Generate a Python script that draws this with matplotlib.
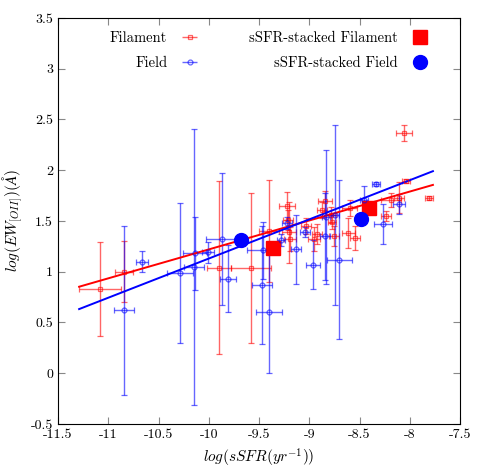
import matplotlib
matplotlib.use("Agg")
import matplotlib.pyplot as plt
import numpy as np

plt.rcParams["font.family"] = "serif"
plt.rcParams["font.serif"] = ["cmr10", "DejaVu Serif"]
plt.rcParams["mathtext.fontset"] = "cm"
plt.rcParams["axes.unicode_minus"] = False

# filament galaxies: x, y, xerr, yerr
fil_x = [-11.08, -10.84, -9.90, -9.58, -9.40, -9.22, -9.20, -9.21, -9.19, -9.03,
         -8.92, -8.95, -8.84, -8.87, -8.78, -8.77, -8.75, -8.61, -8.55, -8.60,
         -8.19, -8.11, -8.24, -8.04, -8.06, -7.81]
fil_y = [0.83, 1.00, 1.04, 1.04, 1.40, 1.65, 1.39, 1.51, 1.32, 1.45,
         1.37, 1.32, 1.70, 1.61, 1.56, 1.49, 1.35, 1.38, 1.33, 1.63,
         1.71, 1.73, 1.55, 1.89, 2.37, 1.73]
fil_xerr = [0.21, 0.09, 0.12, 0.20, 0.10, 0.08, 0.07, 0.05, 0.06, 0.05,
            0.05, 0.06, 0.07, 0.05, 0.05, 0.04, 0.05, 0.06, 0.05, 0.07,
            0.10, 0.05, 0.05, 0.04, 0.08, 0.04]
fil_yerr = [0.46, 0.30, 0.85, 0.74, 0.50, 0.14, 0.30, 0.10, 0.12, 0.08,
            0.10, 0.12, 0.10, 0.08, 0.08, 0.07, 0.10, 0.15, 0.12, 0.08,
            0.07, 0.15, 0.05, 0.02, 0.08, 0.02]

# field galaxies
fld_x = [-10.84, -10.66, -10.29, -10.15, -10.14, -10.01, -9.87, -9.81, -9.46, -9.47,
         -9.40, -9.28, -9.13, -9.04, -8.96, -8.84, -8.83, -8.74, -8.70, -8.46,
         -8.34, -8.27, -8.11, -9.22]
fld_y = [0.62, 1.10, 0.99, 1.05, 1.18, 1.19, 1.32, 0.93, 1.21, 0.87,
         0.60, 1.31, 1.22, 1.39, 1.07, 1.35, 1.54, 1.56, 1.12, 1.71,
         1.86, 1.47, 1.67, 1.48]
fld_xerr = [0.10, 0.06, 0.13, 0.10, 0.12, 0.06, 0.16, 0.08, 0.16, 0.10,
            0.13, 0.04, 0.05, 0.05, 0.07, 0.05, 0.04, 0.04, 0.12, 0.04,
            0.04, 0.09, 0.06, 0.05]
fld_yerr = [0.83, 0.10, 0.69, 1.36, 0.36, 0.10, 0.65, 0.33, 0.28, 0.58,
            0.60, 0.06, 0.34, 0.05, 0.24, 0.43, 0.66, 0.89, 0.78, 0.13,
            0.02, 0.20, 0.10, 0.06]

# sSFR-stacked points
stk_fil_x = [-9.36, -8.41]
stk_fil_y = [1.23, 1.63]
stk_fld_x = [-9.68, -8.49]
stk_fld_y = [1.31, 1.52]

# linear fits y = a*x + b
fil_fit = (0.285, 4.07)
fld_fit = (0.386, 4.99)
fit_range = (-11.29, -7.77)

xticks = [-11.5, -11, -10.5, -10, -9.5, -9, -8.5, -8, -7.5]
yticks = [-0.5, 0, 0.5, 1, 1.5, 2, 2.5, 3, 3.5]

fig = plt.figure(figsize=(4.85, 4.72), dpi=100)
ax = fig.add_axes([0.1196, 0.1017, 0.829, 0.8602])

eb_style = dict(mfc="none", ms=3.5, mew=0.9, elinewidth=1.0, capsize=2.2, alpha=0.6)
ax.errorbar(fil_x, fil_y, xerr=fil_xerr, yerr=fil_yerr, fmt="s", color="red", **eb_style)
ax.errorbar(fld_x, fld_y, xerr=fld_xerr, yerr=fld_yerr, fmt="o", color="blue", **eb_style)

# legend proxies: horizontal bar only, like the original key
h_fil = ax.errorbar([], [], xerr=[], fmt="s", color="red", **eb_style)
h_fld = ax.errorbar([], [], xerr=[], fmt="o", color="blue", **eb_style)

xf = np.array(fit_range)
ax.plot(xf, fil_fit[0] * xf + fil_fit[1], color="red", lw=1.4)
ax.plot(xf, fld_fit[0] * xf + fld_fit[1], color="blue", lw=1.4)

(h_sfil,) = ax.plot(stk_fil_x, stk_fil_y, "s", color="red", ms=9.5, ls="none")
(h_sfld,) = ax.plot(stk_fld_x, stk_fld_y, "o", color="blue", ms=10, ls="none")

ax.set_xlim(-11.5, -7.5)
ax.set_ylim(-0.5, 3.5)
ax.set_xticks(xticks, labels=["{:g}".format(t) for t in xticks])
ax.set_yticks(yticks, labels=["{:g}".format(t) for t in yticks])
ax.tick_params(direction="in", top=True, right=True, length=5, labelsize=10,
               color="#888888")

ax.set_xlabel(r"$log(sSFR(yr^{-1}))$", fontsize=11)
ax.set_ylabel(r"$log(EW_{[OII]})(\AA)$", fontsize=11)

fig.legend([h_fil, h_fld, h_sfil, h_sfld],
           ["Filament", "Field", "sSFR-stacked Filament", "sSFR-stacked Field"],
           ncol=2, loc="upper right", bbox_to_anchor=(440 / 485, 1 - 24 / 472),
           frameon=False, markerfirst=False, fontsize=10.5, handlelength=1.7,
           handletextpad=0.7, columnspacing=3.2, borderpad=0, labelspacing=0.8)

fig.savefig("out.png", dpi=100)
